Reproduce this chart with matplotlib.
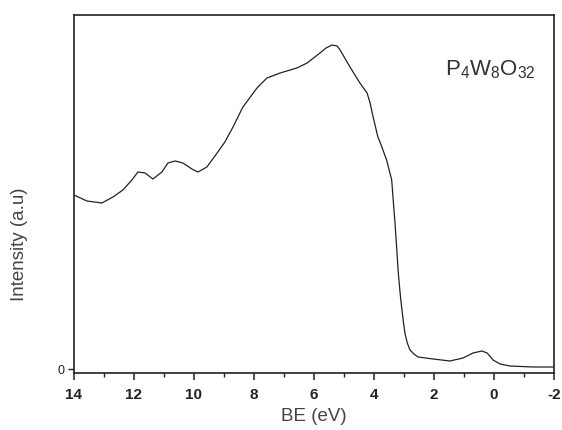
import numpy as np
import matplotlib.pyplot as plt

plt.rcParams['font.family'] = ['Liberation Sans', 'DejaVu Sans']
plt.rcParams['mathtext.fontset'] = 'custom'
plt.rcParams['mathtext.rm'] = 'Liberation Sans'
plt.rcParams['mathtext.it'] = 'Liberation Sans'
plt.rcParams['mathtext.default'] = 'regular'

# binding energy (eV) and intensity (arb. units)
be = [14.0, 13.57, 13.07, 12.7, 12.37, 12.07, 11.87, 11.63, 11.37, 11.07,
      10.87, 10.63, 10.37, 10.07, 9.87, 9.57, 9.23, 8.97, 8.7, 8.37,
      7.9, 7.57, 7.13, 6.57, 6.23, 5.8, 5.6, 5.4, 5.23, 5.13,
      4.8, 4.47, 4.23, 4.13, 4.03, 3.87, 3.8, 3.58, 3.41, 3.36,
      3.3, 3.24, 3.19, 3.13, 3.08, 3.02, 2.97, 2.89, 2.8, 2.67,
      2.53, 2.03, 1.47, 1.03, 0.7, 0.4, 0.23, 0.03, -0.2, -0.53,
      -1.3, -1.97]
intensity = [174, 168, 166, 172, 179, 189, 197, 196, 190, 197,
             206, 208, 206, 200, 197, 202, 216, 227, 242, 262,
             281, 291, 296, 301, 306, 316, 321, 324, 323, 319,
             302, 286, 276, 266, 252, 232, 227, 209, 189, 169,
             146, 119, 96, 76, 62, 47, 36, 26, 19, 15,
             12, 10, 8, 11, 16, 18, 16, 9, 5, 3,
             2, 2]

x_major = [14, 12, 10, 8, 6, 4, 2, 0, -2]
x_minor = [13, 11, 9, 7, 5, 3, 1, -1]

fig = plt.figure(figsize=(5.62, 4.3), dpi=100)
ax = fig.add_axes([74 / 562, 57 / 430, 480 / 562, 358 / 430])

ax.plot(be, intensity, color='#222222', lw=0.9)

ax.set_xlim(14, -2)
ax.set_ylim(-4, 354)
ax.set_xticks(x_major)
ax.set_xticklabels([str(v) for v in x_major], fontweight='bold')
ax.set_xticks(x_minor, minor=True)
ax.set_yticks([0])
ax.set_yticklabels(['0'], fontsize=9, color='#333333')

ax.tick_params(axis='x', which='major', length=5, width=1.1, labelsize=11,
               colors='#222222', pad=6)
ax.tick_params(axis='x', which='minor', length=3, width=1.0, colors='#222222')
ax.tick_params(axis='y', length=4, width=1.0, colors='#222222', pad=3)

for s in ax.spines.values():
    s.set_linewidth(1.2)
    s.set_color('#222222')

ax.set_xlabel('BE (eV)', fontsize=13.5, color='#444444', labelpad=4)
ax.set_ylabel('Intensity (a.u)', fontsize=13.5, color='#444444')
ax.yaxis.set_label_coords(-0.095, 0.36)

ax.text(0.868, 0.846, r'P$_4$W$_8$O$_{32}$', transform=ax.transAxes,
        fontsize=16, color='#333333', ha='center', va='center')

fig.savefig('out.png', dpi=100)
